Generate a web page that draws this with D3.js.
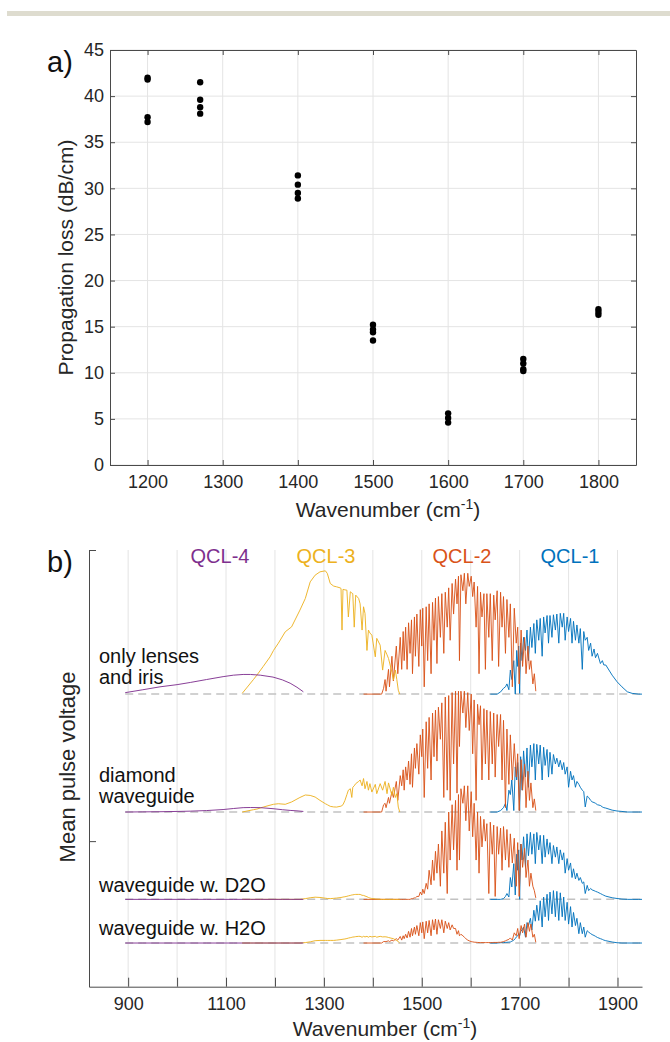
<!DOCTYPE html>
<html>
<head>
<meta charset="utf-8">
<script src="https://cdn.jsdelivr.net/npm/d3@7"></script>
<style>
  body { margin: 0; background: #fff; }
  text { font-family: "Liberation Sans", Arial, sans-serif; }
</style>
</head>
<body>
<svg id="chart" width="670" height="1042"></svg>
<script>
// ---- panel a: propagation loss per wavenumber ----
var lossWavenumbers = [1200, 1270, 1400, 1500, 1600, 1700, 1800];
var lossValues = [
  [42.0, 41.8, 37.7, 37.2],
  [41.5, 39.6, 38.8, 38.1],
  [31.4, 30.4, 29.5, 28.9],
  [15.2, 14.7, 14.4, 13.5],
  [5.6, 5.1, 4.6],
  [11.5, 11.0, 10.4, 10.2],
  [16.9, 16.6, 16.3]
];
var lossTicksX = [1200, 1300, 1400, 1500, 1600, 1700, 1800];
var lossTicksY = [0, 5, 10, 15, 20, 25, 30, 35, 40, 45];

// ---- panel b: spectra, rows = [wavenumber, lenses, diamond, D2O, H2O] ----
var traceNames = [["only lenses", "and iris"], ["diamond", "waveguide"], ["waveguide w. D2O"], ["waveguide w. H2O"]];
var traceOffsets = [2.01, 1.2, 0.6, 0.3];
var specTicksX = [900, 1000, 1100, 1200, 1300, 1400, 1500, 1600, 1700, 1800, 1900];
var laserNames = ["QCL-1", "QCL-2", "QCL-3", "QCL-4"];
var laserColors = ["#0072BD", "#D95319", "#EDB120", "#7E2F8E"];
var laserLabelX = [570, 462, 326, 220];

var qcl4 = [
  [894, .01, 0, 0, 0], [930, .03, .001, 0, 0], [965, .05, .002, 0, 0], [1000, .065, .004, 0, 0],
  [1027, .08, .006, 0, 0], [1060, .10, .01, 0, 0], [1094, .12, .017, 0, 0], [1115, .13, .024, 0, 0],
  [1135, .135, .03, 0, 0], [1150, .135, .031, 0, 0], [1170, .13, .03, 0, 0], [1196, .117, .023, 0, 0],
  [1215, .098, .016, 0, 0], [1231, .075, .011, 0, 0], [1245, .047, .008, 0, 0], [1258, .016, .004, 0, 0]
];

var qcl3 = [
  [1133, .005, 0, 0, 0], [1156, .10, .016, 0, 0], [1163, .13, .02, 0, 0], [1176, .19, .034, 0, 0],
  [1190, .256, .047, 0, 0], [1197, .30, .053, 0, 0], [1207, .35, .057, 0, 0], [1221, .428, .053, 0, 0],
  [1234, .462, .069, 0, 0], [1251, .577, .10, 0, 0], [1262, .657, .117, .005, .003], [1272, .771, .114, .011, .008],
  [1282, .817, .103, .015, .016], [1292, .84, .08, .013, .018], [1303, .847, .057, .008, .018], [1307, .829, .05, .006, .018],
  [1313, .76, .039, .005, .018], [1320, .742, .035, .007, .018], [1326, .737, .034, .009, .02], [1333, .73, .039, .012, .023],
  [1335, .726, .04, .013, .024], [1337, .44, .045, .014, .025], [1339, .72, .05, .016, .026], [1343, .716, .08, .018, .028],
  [1347, .714, .12, .021, .031], [1350, .53, .15, .024, .034], [1354, .703, .16, .027, .037], [1357, .695, .10, .03, .039],
  [1359, .69, .17, .031, .041], [1362, .46, .18, .033, .042], [1365, .68, .195, .034, .044], [1371, .657, .21, .034, .046],
  [1374, .62, .22, .034, .046], [1378, .44, .18, .028, .04], [1381, .60, .23, .027, .046], [1384, .554, .16, .023, .042],
  [1388, .30, .21, .018, .046], [1391, .44, .15, .013, .04], [1394, .42, .195, .009, .046], [1398, .405, .137, .006, .042],
  [1405, .256, .19, .003, .046], [1408, .383, .126, .002, .04], [1415, .336, .195, .001, .046], [1420, .165, .15, 0, .042],
  [1425, .30, .21, 0, .043], [1429, .27, .126, 0, .041], [1432, .245, .20, 0, .038], [1439, .15, .114, 0, .032],
  [1442, .096, .17, 0, .03], [1446, .165, .10, 0, .022], [1449, .10, .126, 0, .017], [1452, .027, .034, 0, .01],
  [1455, 0, 0, 0, 0]
];

var qcl2 = [
  [1381, 0, 0, 0, 0], [1418, 0, 0, 0, 0], [1422, .04, .05, 0, .01], [1425, .10, .06, 0, .01],
  [1427, .02, .03, 0, .01], [1432, .17, .10, 0, .015], [1434, .05, .06, 0, .01], [1439, .26, .14, 0, .02],
  [1442, .09, .10, 0, .015], [1448, .33, .21, 0, .03], [1451, .14, .08, 0, .02], [1456, .39, .25, 0, .045],
  [1459, .17, .18, 0, .02], [1462, .43, .29, 0, .05], [1464, .23, .15, 0, .03], [1467, .46, .31, 0, .06],
  [1470, .17, .22, 0, .035], [1473, .49, .35, 0, .08], [1476, .28, .19, 0, .04], [1479, .51, .40, .005, .10],
  [1481, .14, .17, .005, .05], [1485, .53, .44, .01, .11], [1487, .26, .30, .01, .06], [1490, .55, .47, .02, .12],
  [1494, .19, .26, .02, .05], [1497, .58, .53, .05, .14], [1500, .33, .38, .03, .07], [1502, .59, .57, .07, .145],
  [1505, .05, .10, .04, .03], [1509, .60, .62, .11, .15], [1512, .23, .30, .07, .07], [1515, .62, .65, .20, .155],
  [1519, .14, .22, .10, .05], [1522, .63, .68, .27, .16], [1525, .37, .38, .13, .09], [1528, .66, .70, .33, .165],
  [1531, .21, .35, .18, .06], [1534, .67, .72, .38, .16], [1538, .39, .50, .09, .10], [1541, .69, .75, .47, .16],
  [1545, .28, .10, .18, .07], [1548, .70, .79, .53, .15], [1552, .46, .15, .04, .10], [1555, .73, .80, .60, .14],
  [1558, .37, .08, .27, .09], [1562, .76, .82, .65, .125], [1565, .55, .33, .34, .10], [1569, .79, .83, .68, .10],
  [1572, .62, .13, .20, .06], [1575, .81, .83, .72, .085], [1577, .23, .45, .27, .05], [1580, .82, .83, .76, .06],
  [1584, .71, .68, .66, .05], [1587, .83, .83, .78, .04], [1590, .62, .58, .54, .03], [1594, .83, .82, .78, .02],
  [1597, .74, .56, .47, .015], [1601, .81, .81, .74, .01], [1604, .67, .40, .43, .008], [1607, .77, .77, .66, .006],
  [1611, .46, .08, .27, .005], [1614, .74, .74, .60, .004], [1617, .14, .60, .18, .003], [1620, .70, .73, .57, .003],
  [1623, .53, .22, .36, .003], [1627, .69, .71, .55, .003], [1630, .17, .33, .40, .003], [1633, .69, .70, .52, .003],
  [1637, .39, .22, .04, .003], [1640, .69, .69, .53, .003], [1644, .23, .33, .31, .003], [1647, .68, .68, .51, .004],
  [1650, .51, .24, .02, .004], [1654, .71, .67, .50, .004], [1657, .19, .45, .31, .005], [1661, .70, .67, .49, .005],
  [1664, .46, .22, .20, .007], [1667, .67, .63, .50, .01], [1671, .28, .03, .27, .015], [1674, .65, .57, .48, .02],
  [1678, .39, .19, .22, .025], [1681, .62, .53, .45, .035], [1685, .05, .22, .25, .02], [1689, .59, .47, .42, .07],
  [1693, .35, .24, .09, .05], [1696, .46, .40, .39, .10], [1699, .07, .01, .02, .03], [1703, .44, .36, .38, .12],
  [1706, .19, .15, .22, .07], [1710, .39, .33, .35, .13], [1713, .14, .03, .15, .04], [1717, .33, .28, .27, .14],
  [1720, .17, .08, .09, .08], [1723, .23, .20, .18, .13], [1727, .07, .03, .09, .04], [1730, .14, .09, .06, .06],
  [1733, .02, .01, .01, .005]
];

var qcl1 = [
  [1640, 0, 0, 0, 0], [1654, 0, 0, 0, 0], [1661, .015, .01, 0, .002], [1667, .04, .03, .005, .003],
  [1671, .05, .06, .02, .004], [1674, .07, .01, .04, .005], [1678, .03, .15, .016, .006], [1681, .165, .12, .15, .007],
  [1684, .10, .22, .085, .012], [1688, .23, .01, .245, .02], [1691, 0, .31, .03, .03], [1694, .30, .22, .31, .045],
  [1696, .19, .34, .20, .05], [1698, .33, .20, .34, .064], [1700, .005, .01, 0, .05], [1702, .35, .38, .38, .08],
  [1705, .23, .15, .27, .09], [1708, .39, .42, .43, .11], [1712, .30, .24, .22, .04], [1715, .44, .44, .45, .14],
  [1718, .23, .17, .30, .12], [1722, .46, .46, .46, .17], [1725, .32, .31, .31, .09], [1729, .485, .47, .45, .225],
  [1732, .28, .22, .245, .15], [1735, .51, .465, .46, .26], [1739, .37, .33, .34, .155], [1742, .52, .46, .44, .29],
  [1746, .26, .22, .245, .11], [1749, .53, .445, .44, .316], [1752, .42, .32, .29, .18], [1756, .54, .43, .415, .335],
  [1759, .35, .24, .31, .155], [1762, .54, .41, .39, .35], [1766, .39, .26, .245, .20], [1769, .545, .395, .37, .36],
  [1773, .44, .33, .29, .18], [1776, .55, .37, .36, .355], [1780, .35, .31, .245, .155], [1783, .555, .355, .34, .345],
  [1787, .46, .29, .27, .18], [1790, .555, .34, .32, .316], [1793, .37, .26, .18, .155], [1797, .53, .31, .28, .28],
  [1800, .43, .17, .20, .13], [1804, .52, .28, .25, .25], [1807, .35, .22, .15, .11], [1810, .50, .25, .21, .21],
  [1814, .37, .17, .14, .12], [1817, .475, .21, .18, .17], [1821, .35, .19, .13, .064], [1824, .45, .17, .15, .14],
  [1828, .17, .15, .11, .064], [1831, .43, .14, .12, .11], [1834, .37, .035, .04, .04], [1838, .39, .11, .096, .085],
  [1841, .30, .10, .06, .075], [1845, .35, .08, .075, .065], [1848, .26, .07, .065, .058], [1852, .31, .065, .06, .052],
  [1855, .25, .06, .055, .046], [1859, .28, .05, .05, .038], [1865, .21, .045, .04, .03], [1869, .23, .035, .033, .025],
  [1872, .20, .03, .028, .02], [1876, .20, .027, .022, .016], [1889, .13, .013, .011, .007], [1899, .085, .007, .006, .002],
  [1909, .05, .004, .002, 0], [1920, .016, 0, 0, 0], [1930, .005, 0, 0, 0], [1943, 0, 0, 0, 0], [1950, 0, 0, 0, 0]
];

var lasers = [qcl1, qcl2, qcl3, qcl4];

var svg = d3.select('#chart');
var ink = '#262626';

// thin band at the top of the page
svg.append('rect').attr('x', 7).attr('y', 11).attr('width', 663).attr('height', 5).attr('fill', '#dedccf');

//---------------- panel a ----------------
var ax = d3.scaleLinear().domain([1150, 1850]).range([110, 636]);
var ay = d3.scaleLinear().domain([0, 45]).range([465, 50]);
var ga = svg.append('g');
var plain = d3.format('d');

ga.selectAll('line.gx').data(lossTicksX).enter().append('line')
  .attr('x1', function(d) { return ax(d); }).attr('x2', function(d) { return ax(d); })
  .attr('y1', ay(0)).attr('y2', ay(45)).attr('stroke', '#e4e4e4');
ga.selectAll('line.gy').data(lossTicksY).enter().append('line')
  .attr('y1', function(d) { return ay(d); }).attr('y2', function(d) { return ay(d); })
  .attr('x1', ax(1150)).attr('x2', ax(1850)).attr('stroke', '#e4e4e4');

function styleAxis(g, size) {
  g.attr('font-family', '"Liberation Sans", Arial, sans-serif').attr('font-size', size).attr('color', ink);
  g.selectAll('.domain').attr('stroke', '#4a4a4a');
  g.selectAll('.tick line').attr('stroke', '#4a4a4a');
}

ga.append('g').attr('transform', 'translate(0,' + ay(0) + ')')
  .call(d3.axisBottom(ax).tickValues(lossTicksX).tickSize(-5).tickSizeOuter(0).tickPadding(10).tickFormat(plain))
  .call(styleAxis, 18);
ga.append('g').attr('transform', 'translate(0,' + ay(45) + ')')
  .call(d3.axisTop(ax).tickValues(lossTicksX).tickSize(-5).tickSizeOuter(0).tickFormat(''))
  .call(styleAxis, 18);
ga.append('g').attr('transform', 'translate(' + ax(1150) + ',0)')
  .call(d3.axisLeft(ay).tickValues(lossTicksY).tickSize(-5).tickSizeOuter(0).tickPadding(6).tickFormat(plain))
  .call(styleAxis, 18);
ga.append('g').attr('transform', 'translate(' + ax(1850) + ',0)')
  .call(d3.axisRight(ay).tickValues(lossTicksY).tickSize(-5).tickSizeOuter(0).tickFormat(''))
  .call(styleAxis, 18);

lossWavenumbers.forEach(function(w, i) {
  ga.selectAll(null).data(lossValues[i]).enter().append('circle')
    .attr('cx', ax(w)).attr('cy', function(d) { return ay(d); })
    .attr('r', 3.2).attr('fill', '#000');
});

var xla = ga.append('text').attr('x', 388).attr('y', 517).attr('text-anchor', 'middle')
  .attr('font-size', 21).attr('fill', ink);
xla.append('tspan').text('Wavenumber (cm');
xla.append('tspan').attr('baseline-shift', 'super').attr('font-size', 14).text('-1');
xla.append('tspan').text(')');

ga.append('text').attr('transform', 'translate(73,' + ay(22.5) + ') rotate(-90)')
  .attr('text-anchor', 'middle').attr('font-size', 21).attr('fill', ink)
  .text('Propagation loss (dB/cm)');

ga.append('text').attr('x', 47).attr('y', 72).attr('font-size', 29).attr('fill', '#111').text('a)');

//---------------- panel b ----------------
var bx = d3.scaleLinear().domain([820, 1950]).range([89, 642]);
var by = d3.scaleLinear().domain([0, 3]).range([986.7, 550]);
var gb = svg.append('g');

gb.selectAll('line.gx').data(specTicksX).enter().append('line')
  .attr('x1', function(d) { return bx(d); }).attr('x2', function(d) { return bx(d); })
  .attr('y1', by(0)).attr('y2', by(3)).attr('stroke', '#e4e4e4');

// dashed zero lines of each trace
gb.selectAll('line.base').data(traceOffsets).enter().append('line')
  .attr('x1', bx(894)).attr('x2', bx(1950))
  .attr('y1', function(d) { return by(d); }).attr('y2', function(d) { return by(d); })
  .attr('stroke', '#c2c2c2').attr('stroke-width', 1.5).attr('stroke-dasharray', '8,5');

traceOffsets.forEach(function(off, t) {
  var line = d3.line()
    .x(function(r) { return bx(r[0]); })
    .y(function(r) { return by(off + r[t + 1]); });
  lasers.forEach(function(rows, k) {
    gb.append('path').attr('d', line(rows))
      .attr('fill', 'none').attr('stroke', laserColors[k])
      .attr('stroke-width', 1).attr('stroke-opacity', 0.92).attr('stroke-linejoin', 'round');
  });
});

gb.append('g').attr('transform', 'translate(0,' + by(0) + ')')
  .call(d3.axisBottom(bx).tickValues(specTicksX).tickSize(-9).tickSizeOuter(0).tickPadding(11)
    .tickFormat(function(d) { return d % 200 === 100 ? d : ''; }))
  .call(styleAxis, 18);
gb.append('g').attr('transform', 'translate(' + bx(820) + ',0)')
  .call(d3.axisLeft(by).tickValues([1, 3]).tickSize(-7).tickSizeOuter(0).tickFormat(''))
  .call(styleAxis, 18);

laserNames.forEach(function(name, k) {
  gb.append('text').attr('x', laserLabelX[k]).attr('y', 563).attr('text-anchor', 'middle')
    .attr('font-size', 20).attr('fill', laserColors[k]).text(name);
});

var nameY = [[663, 684], [782, 803], [892], [935]];
traceNames.forEach(function(lines, t) {
  lines.forEach(function(s, j) {
    gb.append('text').attr('x', 99).attr('y', nameY[t][j]).attr('font-size', 20).attr('fill', '#111').text(s);
  });
});

var xlb = gb.append('text').attr('x', 385).attr('y', 1036).attr('text-anchor', 'middle')
  .attr('font-size', 21).attr('fill', ink);
xlb.append('tspan').text('Wavenumber (cm');
xlb.append('tspan').attr('baseline-shift', 'super').attr('font-size', 14).text('-1');
xlb.append('tspan').text(')');

gb.append('text').attr('transform', 'translate(75,767) rotate(-90)')
  .attr('text-anchor', 'middle').attr('font-size', 22).attr('fill', ink)
  .text('Mean pulse voltage');

gb.append('text').attr('x', 47).attr('y', 572).attr('font-size', 29).attr('fill', '#111').text('b)');
</script>
</body>
</html>
